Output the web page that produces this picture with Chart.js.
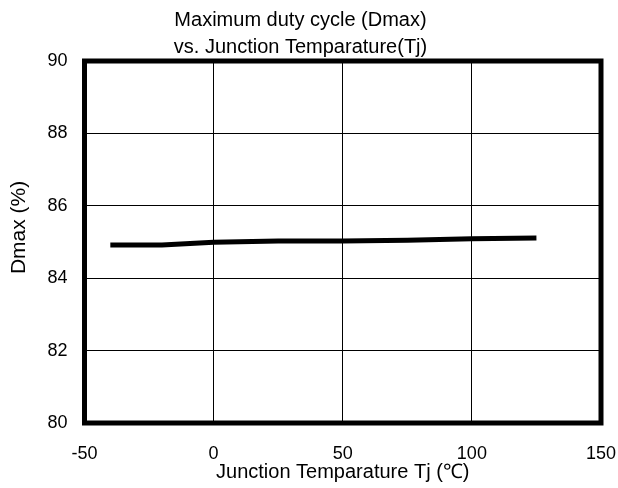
<!DOCTYPE html>
<html>
<head>
<meta charset="utf-8">
<script src="https://cdn.jsdelivr.net/npm/chart.js@4/dist/chart.umd.min.js"></script>
<style>
  html, body { margin: 0; padding: 0; background: #fff; }
  #wrap { width: 618px; height: 488px; }
</style>
</head>
<body>
<div id="wrap"><canvas id="grafico" width="618" height="488"></canvas></div>
<script>
// datos
const temperaturas = [-40, -20, 0, 25, 50, 75, 100, 125];
const dmax = [84.92, 84.92, 84.99, 85.03, 85.03, 85.05, 85.09, 85.11];
const ticksX = [-50, 0, 50, 100, 150];
const ticksY = [80, 82, 84, 86, 88, 90];

const fuente = "'Liberation Sans', Arial, sans-serif";

// marco grueso alrededor del área del gráfico
const marco = {
    id: 'marco',
    afterDraw(chart) {
        const a = chart.chartArea;
        const c = chart.ctx;
        c.save();
        c.strokeStyle = '#000';
        c.lineWidth = 5;
        c.strokeRect(a.left, a.top, a.right - a.left, a.bottom - a.top);
        c.restore();
    }
};

const ctx = document.getElementById('grafico').getContext('2d');
new Chart(ctx, {
    type: 'line',
    data: {
        datasets: [{
            data: temperaturas.map((t, i) => ({ x: t, y: dmax[i] })),
            borderColor: '#000',
            borderWidth: 5,
            pointRadius: 0,
            tension: 0,
            fill: false
        }]
    },
    options: {
        responsive: false,
        animation: false,
        layout: { padding: { top: 0, right: 17, left: 0, bottom: 0 } },
        plugins: {
            legend: { display: false },
            tooltip: { enabled: false },
            title: {
                display: true,
                text: ['Maximum duty cycle (Dmax)', 'vs. Junction Temparature(Tj)'],
                color: '#000',
                font: { family: fuente, size: 20, weight: 'normal', lineHeight: 1.35 },
                padding: { top: 7, bottom: 0 }
            }
        },
        scales: {
            x: {
                type: 'linear',
                min: -50,
                max: 150,
                afterBuildTicks: s => { s.ticks = ticksX.map(v => ({ value: v })); },
                afterFit: s => {
                    s.height = 65;
                    s.paddingLeft = 0;
                    s.paddingRight = 0;
                },
                grid: { color: '#000', lineWidth: 1, drawTicks: false },
                border: { display: false },
                ticks: { color: '#000', font: { family: fuente, size: 18 }, padding: 20 },
                title: {
                    display: true,
                    text: 'Junction Temparature Tj (℃)',
                    color: '#000',
                    font: { family: fuente, size: 20 },
                    padding: { top: 0, bottom: 4 }
                }
            },
            y: {
                min: 80,
                max: 90,
                afterBuildTicks: s => { s.ticks = ticksY.map(v => ({ value: v })); },
                afterFit: s => { s.width = 84.5; },
                grid: { color: '#000', lineWidth: 1, drawTicks: false },
                border: { display: false },
                ticks: { color: '#000', font: { family: fuente, size: 18 }, padding: 17 },
                title: {
                    display: true,
                    text: '     Dmax (%)',
                    color: '#000',
                    font: { family: fuente, size: 21 },
                    padding: { top: 7, bottom: 0 }
                }
            }
        }
    },
    plugins: [marco]
});
</script>
</body>
</html>
